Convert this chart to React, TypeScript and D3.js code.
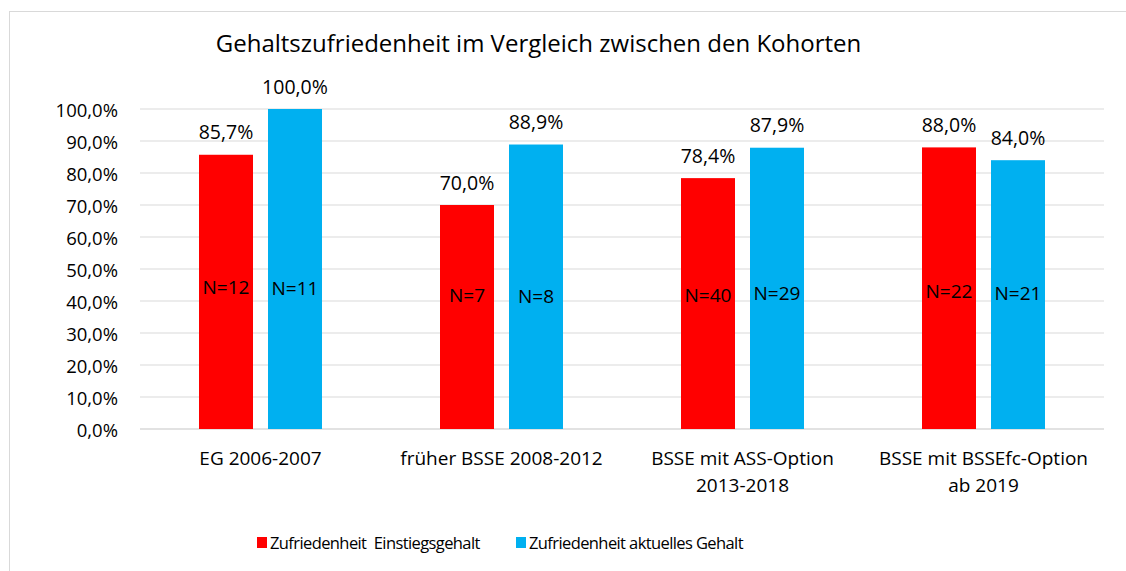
import React from "react";
import * as d3 from "d3";

const categories: string[][] = [
  ["EG 2006-2007"],
  ["früher BSSE 2008-2012"],
  ["BSSE mit ASS-Option", "2013-2018"],
  ["BSSE mit BSSEfc-Option", "ab 2019"],
];
const seriesNames = ["Zufriedenheit  Einstiegsgehalt", "Zufriedenheit aktuelles Gehalt"];
const einstieg = [85.7, 70.0, 78.4, 88.0];
const aktuell = [100.0, 88.9, 87.9, 84.0];
const nEinstieg = [12, 7, 40, 22];
const nAktuell = [11, 8, 29, 21];
// vertical position (in % units) of the N= labels inside the bars
const nPosEinstieg = [44.5, 42.0, 42.0, 43.0];
const nPosAktuell = [44.0, 41.5, 42.5, 42.5];
const yTicks = [0, 10, 20, 30, 40, 50, 60, 70, 80, 90, 100];
const title = "Gehaltszufriedenheit im Vergleich zwischen den Kohorten";
const colors = ["#ff0000", "#00b0f0"];

const W = 1126;
const H = 571;
const FONT = "'Open Sans', Lato, sans-serif";

export default function App() {
  const left = 140;
  const right = 1104;
  const x0 = d3.scaleBand<number>().domain(d3.range(categories.length)).range([left, right]);
  const y = d3.scaleLinear().domain([0, 100]).range([429, 109]);
  const barW = 54;
  const gap = 15;
  const fmt = (v: number) => v.toFixed(1).replace(".", ",") + "%";
  const series = [einstieg, aktuell];
  const ns = [nEinstieg, nAktuell];
  const nPos = [nPosEinstieg, nPosAktuell];

  return (
    <svg
      width={W}
      height={H}
      style={{ position: "absolute", left: 0, top: 0, background: "#fff" }}
      fontFamily={FONT}
    >
      <rect x={9.5} y={11.5} width={W + 10} height={H + 10} fill="#fff" stroke="#d9d9d9" strokeWidth={1} />
      <text x={538.5} y={42} textAnchor="middle" dominantBaseline="central" fontSize={24} fill="#000">
        {title}
      </text>
      {yTicks.map((t) => (
        <g key={t}>
          <line x1={left} x2={right} y1={y(t)} y2={y(t)} stroke="#d9d9d9" strokeWidth={t === 0 ? 1.5 : 1.2} />
          <text x={118} y={y(t)} textAnchor="end" dominantBaseline="central" fontSize={18.5} fill="#000">
            {fmt(t)}
          </text>
        </g>
      ))}
      {categories.map((cat, i) => {
        const cx = x0(i)! + x0.bandwidth() / 2;
        return (
          <g key={i}>
            {series.map((s, j) => {
              const bx = j === 0 ? cx - gap / 2 - barW : cx + gap / 2;
              const v = s[i];
              return (
                <g key={j}>
                  <rect x={bx} y={y(v)} width={barW} height={y(0) - y(v)} fill={colors[j]} />
                  <text
                    x={bx + barW / 2}
                    y={y(v) - 23}
                    textAnchor="middle"
                    dominantBaseline="central"
                    fontSize={19.5}
                    fill="#000"
                  >
                    {fmt(v)}
                  </text>
                  <text
                    x={bx + barW / 2}
                    y={y(nPos[j][i])}
                    textAnchor="middle"
                    dominantBaseline="central"
                    fontSize={19}
                    fill="#000"
                  >
                    {"N=" + ns[j][i]}
                  </text>
                </g>
              );
            })}
            {cat.map((line, k) => (
              <text
                key={k}
                x={cx}
                y={458 + k * 27}
                textAnchor="middle"
                dominantBaseline="central"
                fontSize={19}
                fill="#000"
              >
                {line}
              </text>
            ))}
          </g>
        );
      })}
      {seriesNames.map((name, j) => {
        const lx = j === 0 ? 257 : 516;
        return (
          <g key={j}>
            <rect x={lx} y={537} width={10} height={11} fill={colors[j]} />
            <text
              x={lx + 13}
              y={542}
              dominantBaseline="central"
              fontSize={16.5}
              letterSpacing={-0.6}
              fill="#000"
              style={{ whiteSpace: "pre" }}
            >
              {name}
            </text>
          </g>
        );
      })}
    </svg>
  );
}
